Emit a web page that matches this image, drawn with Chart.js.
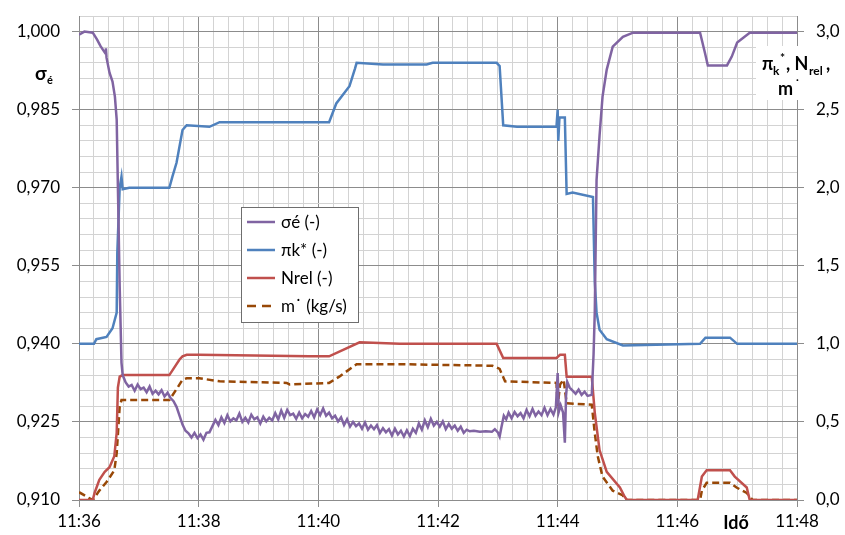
<!DOCTYPE html>
<html lang="hu">
<head>
    <meta charset="UTF-8">
    <title>σé, πk*, Nrel, m˙</title>
    <script src="https://cdn.jsdelivr.net/npm/chart.js"></script>
    <style>
        body {
            margin: 0;
            padding: 0;
            background-color: #fff;
        }
        #chartBox {
            width: 845px;
            height: 535px;
        }
    </style>
</head>
<body>
    <div id="chartBox">
        <canvas id="myChart" width="845" height="535"></canvas>
    </div>
    <script>
        // time in minutes after 11:36
        const sigmaTime = [0, 0.09, 0.23, 0.30, 0.36, 0.43, 0.44, 0.45, 0.46, 0.51, 0.56, 0.60, 0.63, 0.65, 0.68, 0.71, 0.73,
            0.78, 0.83, 0.88, 0.93, 0.98, 1.03, 1.08, 1.13, 1.18, 1.23, 1.28, 1.33, 1.38, 1.43, 1.48, 1.53, 1.58, 1.63, 1.68, 1.73,
            1.78, 1.83, 1.88, 1.93, 1.98, 2.03, 2.08, 2.13, 2.18, 2.23, 2.28, 2.33, 2.38, 2.43, 2.48, 2.53, 2.58, 2.63, 2.68, 2.73,
            2.78, 2.83, 2.88, 2.93, 2.98, 3.03, 3.08, 3.13, 3.18, 3.23, 3.28, 3.33, 3.38, 3.43, 3.48, 3.53, 3.58, 3.63, 3.68, 3.73,
            3.78, 3.83, 3.88, 3.93, 3.98, 4.03, 4.08, 4.13, 4.18, 4.23, 4.28, 4.33, 4.38, 4.43, 4.48, 4.53, 4.58, 4.63, 4.68, 4.73,
            4.78, 4.83, 4.88, 4.93, 4.98, 5.03, 5.08, 5.13, 5.18, 5.23, 5.28, 5.33, 5.38, 5.43, 5.48, 5.53, 5.58, 5.63, 5.68, 5.73,
            5.78, 5.83, 5.88, 5.93, 5.98, 6.03, 6.08, 6.13, 6.18, 6.23, 6.28, 6.33, 6.38, 6.43, 6.48, 6.53, 6.60, 6.70, 6.80, 6.90,
            6.95, 7.00, 7.03, 7.06, 7.10, 7.14, 7.18, 7.23, 7.28, 7.33, 7.38, 7.43, 7.48, 7.53, 7.58, 7.63, 7.68, 7.73, 7.78, 7.83,
            7.88, 7.93, 7.97, 8.00, 8.02, 8.05, 8.09, 8.12, 8.14, 8.16, 8.20, 8.25, 8.30, 8.35, 8.40, 8.45, 8.50, 8.57, 8.60, 8.62,
            8.65, 8.70, 8.75, 8.82, 8.92, 9.09, 9.26, 10.38, 10.46, 10.51, 10.83, 10.91, 11.00, 11.21, 12.0];
        const sigmaVal = [0.9994, 1.0, 0.9998, 0.9985, 0.9972, 0.9960, 0.9962, 0.9968, 0.9950, 0.9921, 0.9904, 0.9875, 0.9831, 0.9702, 0.9510, 0.9364, 0.9340,
            0.9326, 0.9318, 0.9321, 0.9310, 0.9322, 0.9313, 0.9316, 0.9307, 0.9318, 0.9304, 0.9310, 0.9303, 0.9311, 0.9299, 0.9306, 0.9296, 0.9290, 0.9279, 0.9262, 0.9245,
            0.9233, 0.9228, 0.9220, 0.9229, 0.9219, 0.9226, 0.9216, 0.9229, 0.9230, 0.9242, 0.9254, 0.9244, 0.9259, 0.9248, 0.9263, 0.9251, 0.9257, 0.9253, 0.9266, 0.9250,
            0.9258, 0.9249, 0.9264, 0.9255, 0.9259, 0.9247, 0.9260, 0.9251, 0.9258, 0.9253, 0.9267, 0.9255, 0.9272, 0.9258, 0.9273, 0.9263, 0.9266, 0.9256, 0.9268, 0.9257,
            0.9265, 0.9260, 0.9271, 0.9259, 0.9274, 0.9263, 0.9276, 0.9262, 0.9268, 0.9257, 0.9262, 0.9251, 0.9259, 0.9244, 0.9255, 0.9241, 0.9250, 0.9242, 0.9247, 0.9237,
            0.9249, 0.9235, 0.9243, 0.9236, 0.9244, 0.9229, 0.9238, 0.9230, 0.9236, 0.9224, 0.9237, 0.9226, 0.9233, 0.9222, 0.9234, 0.9223, 0.9237, 0.9229, 0.9247, 0.9235,
            0.9253, 0.9240, 0.9256, 0.9243, 0.9250, 0.9241, 0.9251, 0.9236, 0.9246, 0.9237, 0.9243, 0.9233, 0.9241, 0.9229, 0.9235, 0.9232, 0.9233, 0.9231, 0.9232, 0.9231,
            0.9236, 0.9230, 0.9222, 0.9240, 0.9262, 0.9255, 0.9268, 0.9257, 0.9269, 0.9261, 0.9267, 0.9257, 0.9273, 0.9261, 0.9275, 0.9262, 0.9270, 0.9263, 0.9277, 0.9263,
            0.9275, 0.9264, 0.9278, 0.9344, 0.9270, 0.9282, 0.9268, 0.9210, 0.9300, 0.9327, 0.9316, 0.9310, 0.9304, 0.9312, 0.9302, 0.9308, 0.9300, 0.9302, 0.9380, 0.9460,
            0.9715, 0.9800, 0.9875, 0.9927, 0.9971, 0.9990, 0.9998, 0.9998, 0.9960, 0.9935, 0.9935, 0.9952, 0.9979, 0.9998, 0.9998];

        const piTime = [0, 0.25, 0.29, 0.46, 0.56, 0.63, 0.64, 0.68, 0.71, 0.73, 0.84, 1.51, 1.56, 1.63, 1.73, 1.80, 2.18, 2.35, 3.85, 4.18,
            4.30, 4.52, 4.61, 4.64, 5.08, 5.81, 5.91, 6.98, 7.03, 7.09, 7.32, 7.98, 8.00, 8.01, 8.03, 8.12, 8.15, 8.25, 8.59, 8.62,
            8.65, 8.70, 8.82, 9.09, 10.38, 10.47, 10.88, 11.00, 12.0];
        const piVal = [1.0, 1.0, 1.03, 1.045, 1.10, 1.2, 1.58, 2.0, 2.07, 1.99, 2.0, 2.0, 2.07, 2.16, 2.37, 2.40, 2.39, 2.42, 2.42, 2.42,
            2.54, 2.65, 2.76, 2.80, 2.79, 2.79, 2.80, 2.80, 2.78, 2.40, 2.39, 2.39, 2.50, 2.30, 2.45, 2.45, 1.96, 1.97, 1.94, 1.40,
            1.2, 1.09, 1.03, 0.99, 1.0, 1.04, 1.04, 1.0, 1.0];

        const nrelTime = [0, 0.23, 0.26, 0.34, 0.43, 0.51, 0.59, 0.63, 0.65, 0.68, 0.73, 1.51, 1.68, 1.73, 1.80, 2.0, 3.85, 4.18, 4.69, 5.36,
            6.98, 7.09, 7.98, 8.04, 8.12, 8.15, 8.57, 8.62, 8.70, 8.82, 9.04, 9.12, 9.16, 10.34, 10.41, 10.49, 10.88, 10.96, 11.16, 11.21, 12.0];
        const nrelVal = [0, 0, 0.045, 0.13, 0.18, 0.21, 0.28, 0.43, 0.72, 0.79, 0.80, 0.80, 0.90, 0.92, 0.93, 0.93, 0.92, 0.92, 1.01, 1.0,
            1.0, 0.91, 0.91, 0.93, 0.93, 0.79, 0.79, 0.56, 0.32, 0.18, 0.08, 0.02, 0, 0, 0.15, 0.19, 0.19, 0.15, 0.08, 0, 0];

        const massTime = [0, 0.18, 0.23, 0.34, 0.46, 0.59, 0.63, 0.68, 0.71, 1.51, 1.63, 1.73, 1.80, 2.01, 2.35, 3.47, 3.52, 4.18, 4.35, 4.64,
            5.36, 6.91, 7.03, 7.12, 7.98, 8.00, 8.04, 8.10, 8.15, 8.57, 8.62, 8.67, 8.75, 8.92, 9.09, 9.12, 10.38, 10.41, 10.49, 10.88,
            10.99, 11.16, 11.26, 12.0];
        const massVal = [0.05, 0.01, 0, 0.06, 0.115, 0.19, 0.30, 0.60, 0.64, 0.64, 0.71, 0.77, 0.78, 0.78, 0.76, 0.75, 0.74, 0.75, 0.79, 0.87,
            0.87, 0.86, 0.84, 0.76, 0.75, 0.60, 0.74, 0.77, 0.62, 0.61, 0.43, 0.28, 0.15, 0.06, 0.03, 0, 0, 0.06, 0.11, 0.11,
            0.08, 0.045, 0, 0];

        const xLabels = ['11:36', '11:38', '11:40', '11:42', '11:44', '11:46', '11:48'];

        const majorGrid = '#8c8c8c';
        const minorGrid = '#d3d3d3';
        const fontName = 'Lato, "Open Sans", sans-serif';

        function toPoints(ts, vs) {
            return ts.map((t, i) => ({x: t, y: vs[i]}));
        }

        function makeTicks(from, step, n) {
            return Array.from({length: n}, (_, i) => ({value: +(from + i * step).toFixed(4)}));
        }

        // fixed axis sizes so the plot area lands where the original one is
        function fixSize(w, h) {
            return s => {
                if (w) s.width = w;
                if (h) s.height = h;
                s.paddingTop = 0;
                s.paddingBottom = 0;
                s.paddingLeft = 0;
                s.paddingRight = 0;
            };
        }

        // legend box drawn inside the plot, plus axis titles
        const overlayPlugin = {
            id: 'overlay',
            afterDraw(chart) {
                const c = chart.ctx;
                c.save();

                // legend
                const bx = 241, by = 207, bw = 117, bh = 115;
                c.fillStyle = '#fff';
                c.fillRect(bx, by, bw, bh);
                c.strokeStyle = '#6e6e6e';
                c.lineWidth = 1;
                c.strokeRect(bx + 0.5, by + 0.5, bw, bh);
                c.font = '17px ' + fontName;
                c.textBaseline = 'middle';
                chart.data.datasets.forEach((ds, i) => {
                    const yy = by + 15 + i * 28;
                    c.strokeStyle = ds.borderColor;
                    c.lineWidth = 2.5;
                    c.setLineDash(ds.borderDash ? [9, 6] : []);
                    c.beginPath();
                    c.moveTo(bx + 6, yy);
                    c.lineTo(bx + 34, yy);
                    c.stroke();
                    c.setLineDash([]);
                    c.fillStyle = '#000';
                    c.fillText(ds.label, bx + 40, yy + 1);
                });

                // left axis title
                c.fillStyle = '#000';
                c.textBaseline = 'alphabetic';
                c.font = 'bold 19px ' + fontName;
                c.fillText('σ', 35, 80);
                c.font = 'bold 11px ' + fontName;
                c.fillText('é', 47, 84);

                // right axis title with white background
                c.fillStyle = '#fff';
                c.fillRect(756, 46, 89, 54);
                c.fillStyle = '#000';
                c.font = 'bold 18px ' + fontName;
                c.fillText('π', 762, 70);
                c.font = 'bold 12px ' + fontName;
                c.fillText('k', 773, 75);
                c.fillText('*', 780, 62);
                c.font = 'bold 18px ' + fontName;
                c.fillText(', N', 786, 70);
                c.font = 'bold 12px ' + fontName;
                c.fillText('rel', 809, 75);
                c.font = 'bold 18px ' + fontName;
                c.fillText(',', 826, 70);
                c.fillText('m', 778, 95);
                c.font = 'bold 12px ' + fontName;
                c.fillText('˙', 795, 88);

                // x axis title
                c.font = 'bold 18px ' + fontName;
                c.textAlign = 'center';
                c.fillText('Idő', 736, 529);
                c.restore();
            }
        };

        const ctx = document.getElementById('myChart');

        const myChart = new Chart(ctx, {
            type: 'line',
            data: {
                datasets: [{
                    label: 'σé (-)',
                    data: toPoints(sigmaTime, sigmaVal),
                    yAxisID: 'y',
                    borderColor: '#8064a2',
                    borderWidth: 2.5,
                    pointRadius: 0,
                    tension: 0,
                }, {
                    label: 'πk* (-)',
                    data: toPoints(piTime, piVal),
                    yAxisID: 'y2',
                    borderColor: '#4f81bd',
                    borderWidth: 2.5,
                    pointRadius: 0,
                    tension: 0,
                }, {
                    label: 'Nrel (-)',
                    data: toPoints(nrelTime, nrelVal),
                    yAxisID: 'y2',
                    borderColor: '#c0504d',
                    borderWidth: 2.5,
                    pointRadius: 0,
                    tension: 0,
                }, {
                    label: 'm˙ (kg/s)',
                    data: toPoints(massTime, massVal),
                    yAxisID: 'y2',
                    borderColor: '#984807',
                    borderWidth: 2.5,
                    borderDash: [7, 4],
                    pointRadius: 0,
                    tension: 0,
                }]
            },
            options: {
                responsive: false,
                animation: false,
                layout: {
                    padding: {top: 16, left: 0, right: 0, bottom: 0}
                },
                plugins: {
                    legend: {display: false},
                    tooltip: {enabled: false},
                },
                scales: {
                    x: {
                        type: 'linear',
                        min: 0,
                        max: 12,
                        afterBuildTicks: s => { s.ticks = makeTicks(0, 0.25, 49); },
                        afterFit: fixSize(0, 35),
                        ticks: {
                            autoSkip: false,
                            maxRotation: 0,
                            padding: 4,
                            color: '#000',
                            font: {family: fontName, size: 17},
                            callback: (v, i) => i % 8 === 0 ? xLabels[i / 8] : '',
                        },
                        grid: {
                            color: c => c.index % 8 === 0 ? majorGrid : minorGrid,
                            tickColor: c => c.index % 8 === 0 ? majorGrid : 'rgba(0,0,0,0)',
                            tickLength: 7,
                        },
                        border: {color: majorGrid},
                    },
                    y: {
                        type: 'linear',
                        position: 'left',
                        min: 0.91,
                        max: 1.003,
                        afterBuildTicks: s => { s.ticks = makeTicks(0.91, 0.003, 32); },
                        afterFit: fixSize(79, 0),
                        ticks: {
                            autoSkip: false,
                            padding: 12,
                            color: '#000',
                            font: {family: fontName, size: 17},
                            callback: (v, i) => i % 5 === 0 ? v.toFixed(3).replace('.', ',') : '',
                        },
                        grid: {
                            color: c => c.index % 5 === 0 ? majorGrid : minorGrid,
                            tickColor: c => c.index % 5 === 0 ? majorGrid : 'rgba(0,0,0,0)',
                            tickLength: 7,
                        },
                        border: {color: majorGrid},
                    },
                    y2: {
                        type: 'linear',
                        position: 'right',
                        min: 0,
                        max: 3.1,
                        afterBuildTicks: s => { s.ticks = makeTicks(0, 0.1, 32); },
                        afterFit: fixSize(48, 0),
                        ticks: {
                            autoSkip: false,
                            padding: 12,
                            color: '#000',
                            font: {family: fontName, size: 17},
                            callback: (v, i) => i % 5 === 0 ? v.toFixed(1).replace('.', ',') : '',
                        },
                        grid: {
                            drawOnChartArea: false,
                            tickColor: c => c.index % 5 === 0 ? majorGrid : 'rgba(0,0,0,0)',
                            tickLength: 7,
                        },
                        border: {color: majorGrid},
                    }
                }
            },
            plugins: [overlayPlugin]
        });
    </script>
</body>
</html>
